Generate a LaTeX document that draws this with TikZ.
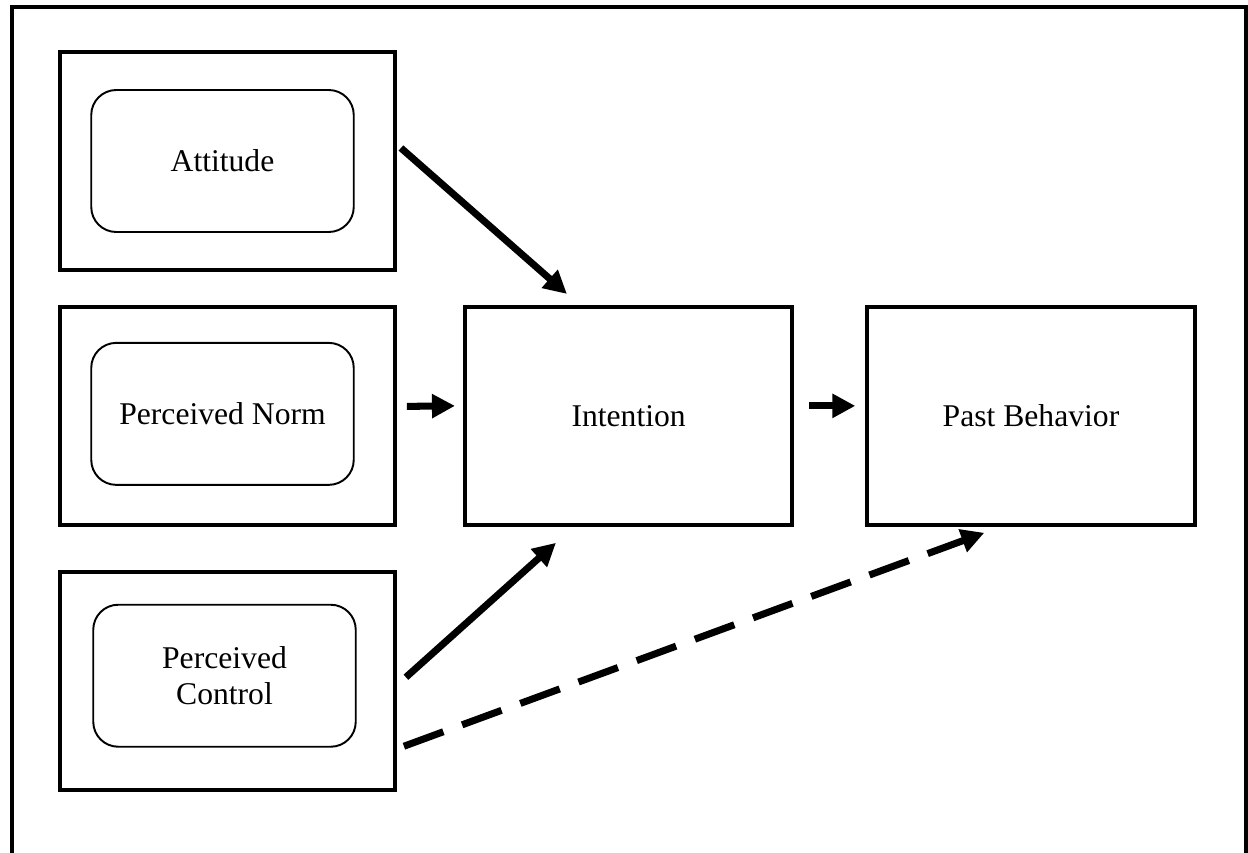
\documentclass[tikz,border=0pt]{standalone}
\usepackage{fontspec}
\setmainfont{Liberation Serif}
\usepackage{tikz}
\usetikzlibrary{arrows.meta, positioning}

\begin{document}
\begin{tikzpicture}[
			outerbox/.style={draw, line width=2.2pt, minimum width=6.7cm, minimum height=4.36cm},
			innerbox/.style={draw, line width=1.1pt, rounded corners=0.5cm, align=center, minimum width=5.25cm, minimum height=2.84cm, font=\fontsize{18}{20.5}\selectfont},
			mainbox/.style={draw, line width=2.2pt, minimum width=6.55cm, minimum height=4.36cm, font=\fontsize{18}{20.5}\selectfont},
			arrow/.style={-{Triangle[length=0.46cm, width=0.46cm]}, line width=4pt},
			dasharrow/.style={arrow, dash pattern=on 0.84cm off 0.4cm}
			]
			
			\useasboundingbox (0,0) rectangle (24.96,-17.06);
			
			% Frame
			\draw[line width=2.2pt] (0.24,-17.06) |- (24.92,-0.14) -- (24.92,-17.06);
			
			% Predictors
			\node[outerbox] (att) at (4.55,-3.22) {};
			\node[innerbox] (attin) at ([xshift=-0.1cm]att.center) {Attitude};
			
			\node[outerbox, below=0.66cm of att] (norm) {};
			\node[innerbox] (normin) at ([xshift=-0.1cm, yshift=0.04cm]norm.center) {Perceived Norm};
			
			\node[outerbox, below=0.86cm of norm] (ctrl) {};
			\node[innerbox] (ctrlin) at ([xshift=-0.06cm, yshift=0.1cm]ctrl.center) {Perceived\\Control};
			
			% Intention
			\node[mainbox, right=1.32cm of norm] (int) {Intention};
			
			% Behavior
			\node[mainbox, right=1.42cm of int] (past) {Past Behavior};
			
			% Arrows
			\draw[arrow] ([xshift=0.08cm, yshift=0.26cm]att.east) -- ([xshift=2.08cm, yshift=0.22cm]int.north west);
			\draw[arrow] ([xshift=0.2cm, yshift=0.19cm]norm.east) -- ([xshift=-0.16cm, yshift=0.2cm]int.west);
			\draw[arrow] ([xshift=0.3cm, yshift=0.2cm]int.east) -- ([xshift=-0.2cm, yshift=0.2cm]past.west);
			\draw[arrow] ([xshift=0.18cm, yshift=0.07cm]ctrl.east) -- ([xshift=1.86cm, yshift=-0.32cm]int.south west);
			\draw[dasharrow] ([xshift=0.14cm, yshift=-1.31cm]ctrl.east) -- ([xshift=2.38cm, yshift=-0.12cm]past.south west);
			
		\end{tikzpicture}
\end{document}
